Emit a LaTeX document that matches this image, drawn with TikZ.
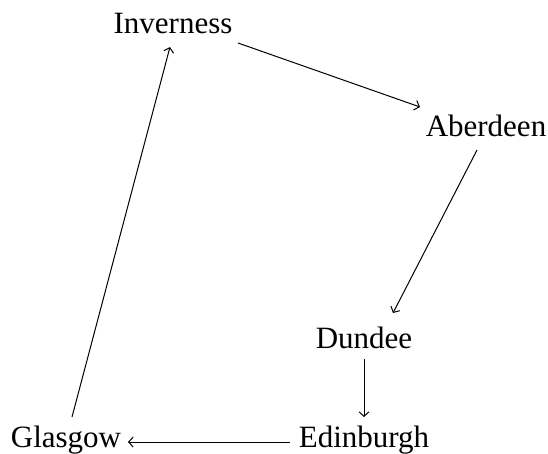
\documentclass[tikz,border=0pt]{standalone}
\usepackage{fontspec}
\setmainfont{Liberation Serif}
\usetikzlibrary{arrows.meta,calc}
\begin{document}
\begin{tikzpicture}[x=1pt,y=-1pt,
  city/.style={inner sep=0pt,anchor=base,font=\fontsize{31}{33}\selectfont},
  conn/.style={line width=1pt,-{Straight Barb[length=4.5pt,width=10pt,line width=1pt]}}]
\useasboundingbox (0,0) rectangle (548,454);
\node[city] (inv) at (173,34) {Inverness};
\node[city] (abe) at (486,137) {Aberdeen};
\node[city] (dun) at (364,348) {Dundee};
\node[city] (edi) at (364,447) {Edinburgh};
\node[city] (gla) at (66,447) {Glasgow};
\draw[conn] ($(inv.base)+(65,9)$) -- ($(abe.base)+(-66,-30)$);
\draw[conn] ($(abe.base)+(-9,13)$) -- ($(dun.base)+(29,-35)$);
\draw[conn] ($(dun.base)+(0,11)$) -- ($(edi.base)+(0,-30)$);
\draw[conn] ($(edi.base)+(-74,-5)$) -- ($(gla.base)+(62,-5)$);
\draw[conn] ($(gla.base)+(6,-30)$) -- ($(inv.base)+(-3,13)$);
\end{tikzpicture}
\end{document}
